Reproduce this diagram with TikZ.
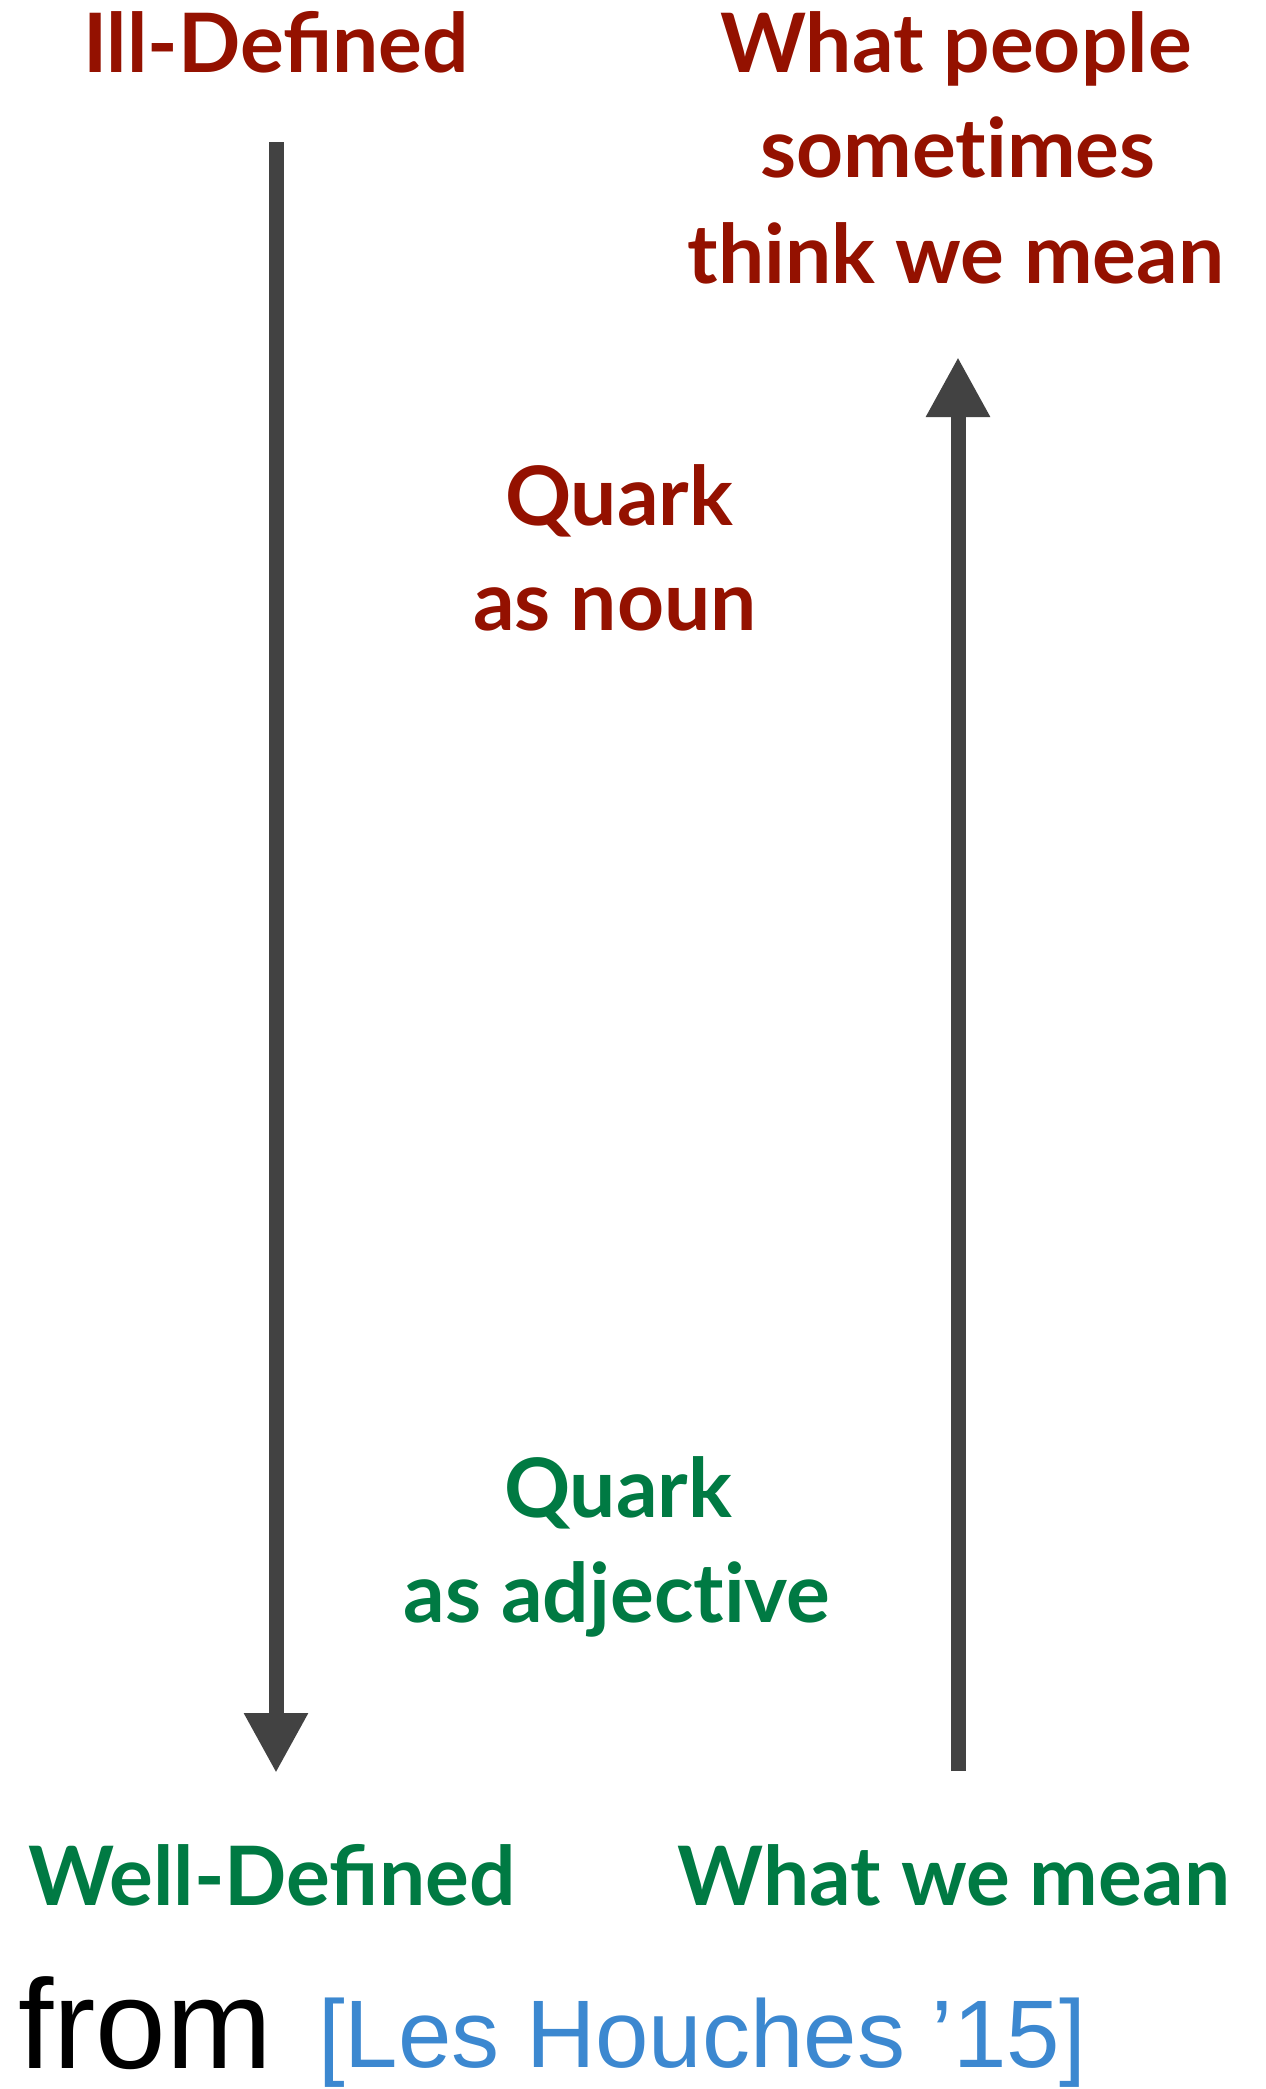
\documentclass[tikz,border=0pt]{standalone}
\usepackage{fontspec}
\setmainfont{Liberation Sans}
\newfontfamily\gillfont[Ligatures=NoCommon]{Lato}
\usetikzlibrary{arrows.meta}
\definecolor{darkred}{HTML}{941100}
\definecolor{darkgreen}{HTML}{007A43}
\definecolor{arrowgray}{HTML}{424242}
\definecolor{citeblue}{HTML}{3C88D0}
\tikzset{
  lbl/.style={anchor=base, inner sep=0pt, font=\gillfont\bfseries\fontsize{82}{104}\selectfont},
  redlbl/.style={lbl, text=darkred},
  greenlbl/.style={lbl, text=darkgreen},
  bigarrow/.style={draw=arrowgray, line width=15pt, -{Triangle[width=60pt,length=60pt]}, arrowgray}
}
\begin{document}
\begin{tikzpicture}[x=1pt,y=-1pt]
\useasboundingbox (0,0) rectangle (1266,2089);
\node[redlbl] (ill) at (276,72) {Ill-De^^^^fb01ned};
\node[redlbl] (wp1) at (956,72) {What people};
\node[redlbl] (wp2) at (958,177) {sometimes};
\node[redlbl] (wp3) at (956,283) {think we mean};
\node[redlbl] (qn1) at (619,525) {Quark};
\node[redlbl] (qn2) at (615,630) {as noun};
\node[greenlbl] (qa1) at (618,1517) {Quark};
\node[greenlbl] (qa2) at (617,1622) {as adjective};
\node[greenlbl] (well) at (272,1905) {Well-De^^^^fb01ned};
\node[greenlbl] (wwm) at (954,1905) {What we mean};
\node[anchor=base west, inner sep=0pt, font=\fontsize{127}{150}\selectfont] (from) at (18,2068) {from};
\node[anchor=base west, inner sep=0pt, text=citeblue, font=\fontsize{96}{114}\selectfont] (cite) at (318,2067) {[Les Houches ’15]};
\coordinate (la) at (276,142);
\coordinate (lb) at (276,1773);
\coordinate (ra) at (958,1771);
\coordinate (rb) at (958,357);
\draw[bigarrow] (la) -- (lb);
\draw[bigarrow] (ra) -- (rb);
\end{tikzpicture}
\end{document}
